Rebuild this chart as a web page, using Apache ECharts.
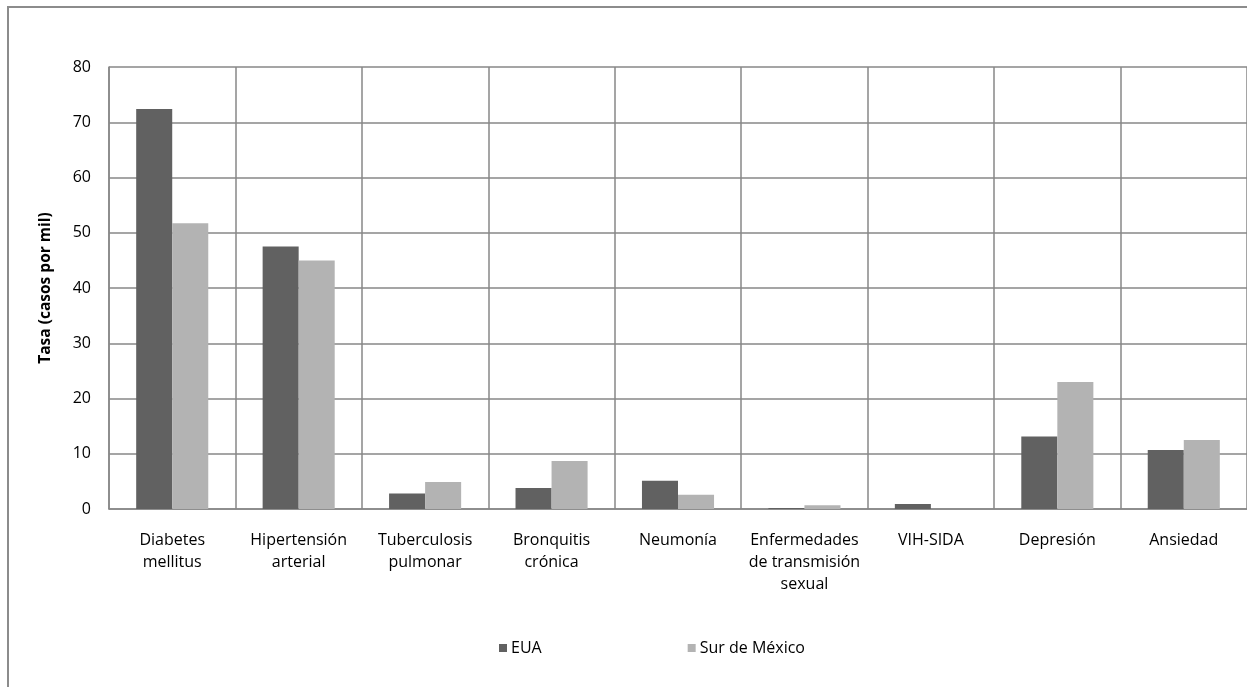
<!DOCTYPE html>
<html><head><meta charset="utf-8">
<script src="https://cdn.jsdelivr.net/npm/echarts@6/dist/echarts.min.js"></script>
<style>html,body{margin:0;padding:0;background:#fff}#c{width:1247px;height:687px}</style>
</head><body><div id="c"></div>
<script>
const categories = ["Diabetes\nmellitus","Hipertensión\narterial","Tuberculosis\npulmonar","Bronquitis\ncrónica","Neumonía","Enfermedades\nde transmisión\nsexual","VIH-SIDA","Depresión","Ansiedad"];
const seriesNames = ["EUA","Sur de México"];
const eua = [72.4, 47.5, 2.8, 3.8, 5.1, 0.2, 0.9, 13.1, 10.7];
const surMexico = [51.7, 45.0, 4.9, 8.7, 2.6, 0.7, 0, 23.0, 12.5];
const yTicks = [0,10,20,30,40,50,60,70,80];

const font = "Open Sans";
const chart = echarts.init(document.getElementById('c'), null, {renderer:'canvas'});
chart.setOption({
  animation:false,
  backgroundColor:'#fff',
  graphic:[{type:'rect',shape:{x:8,y:7,width:1400,height:900},style:{fill:'none',stroke:'#8c8c8c',lineWidth:2},silent:true}],
  grid:{left:109,right:-4,top:67,bottom:178,containLabel:false},
  legend:{data:seriesNames,left:494,top:635,itemWidth:8,itemHeight:8,itemGap:146,icon:'rect',
    textStyle:{fontFamily:font,fontSize:16,color:'#000',padding:[0,0,0,-1]}},
  xAxis:{type:'category',data:categories,
    axisLine:{show:true,lineStyle:{color:'#878787',width:1.5}},
    axisTick:{show:false},
    splitLine:{show:true,lineStyle:{color:'#878787',width:1.5}},
    axisLabel:{interval:0,margin:20,fontFamily:font,fontSize:16,color:'#000',lineHeight:22}},
  yAxis:{type:'value',min:0,max:80,interval:10,
    name:'Tasa (casos por mil)',nameLocation:'middle',nameGap:55,
    nameTextStyle:{fontFamily:font,fontSize:15.5,fontWeight:'bold',color:'#000'},
    axisLine:{show:true,lineStyle:{color:'#878787',width:1.5}},
    axisTick:{show:false},
    splitLine:{show:true,lineStyle:{color:'#878787',width:1.5}},
    axisLabel:{margin:18,fontFamily:font,fontSize:16,color:'#000',
      formatter:v=>yTicks.includes(v)?String(v):''}},
  series:[
    {name:seriesNames[0],type:'bar',data:eua,barGap:'0%',barCategoryGap:'43%',itemStyle:{color:'#616161'}},
    {name:seriesNames[1],type:'bar',data:surMexico,itemStyle:{color:'#b3b3b3'}}
  ]
});
</script></body></html>
